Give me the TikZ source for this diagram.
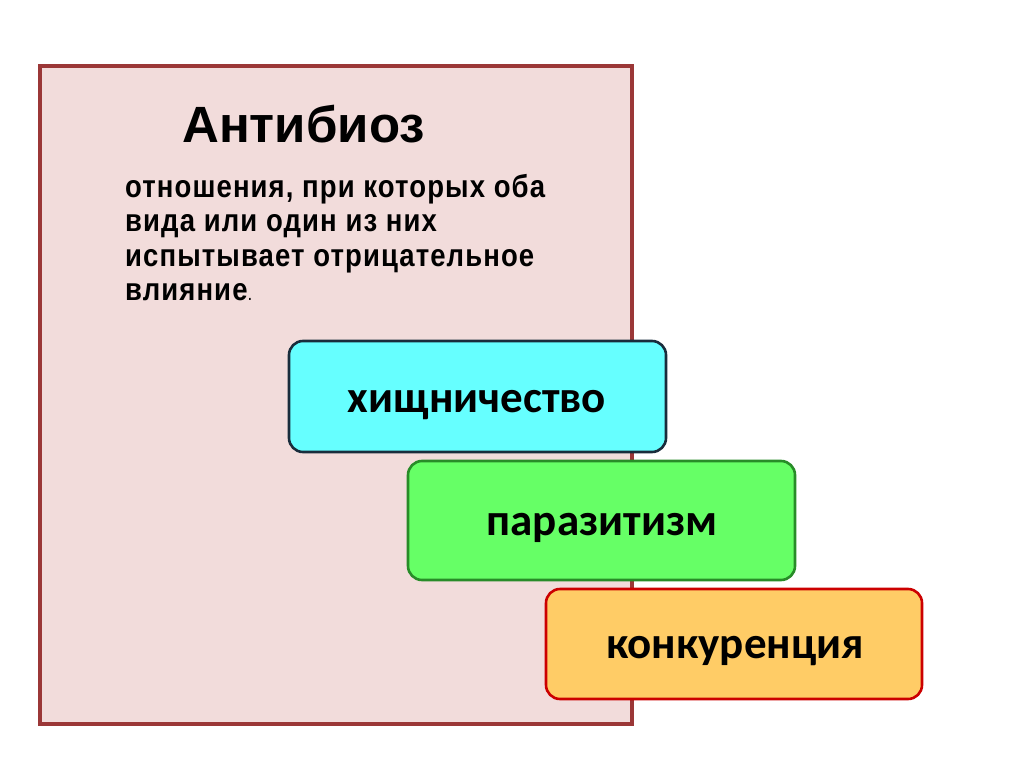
\documentclass[tikz,border=0pt]{standalone}
\usepackage{fontspec}
\setmainfont{Liberation Sans}
\newfontfamily\descfont[LetterSpace=4]{Liberation Sans}
\newfontfamily\boxfont{Carlito}
\definecolor{frameRed}{RGB}{155,55,55}
\definecolor{framePink}{RGB}{242,220,219}
\definecolor{cyanFill}{RGB}{102,255,255}
\definecolor{cyanLine}{RGB}{25,45,60}
\definecolor{greenFill}{RGB}{102,255,102}
\definecolor{greenLine}{RGB}{40,140,40}
\definecolor{orangeFill}{RGB}{255,204,102}
\definecolor{orangeLine}{RGB}{204,0,0}
\newcommand{\tallline}[1]{\scalebox{1}[1.15]{#1}}
\tikzset{
  panel/.style={draw=frameRed, fill=framePink, line width=4pt},
  kindbox/.style={rounded corners=14pt, line width=2.6pt},
  kindtext/.style={anchor=base, font=\boxfont\bfseries\fontsize{45}{54}\selectfont, inner sep=0pt},
  desctext/.style={anchor=base west, font=\descfont\bfseries\fontsize{27.5}{34}\selectfont, inner sep=0pt},
}
\begin{document}
\begin{tikzpicture}[x=1pt,y=-1pt]
\useasboundingbox (0,0) rectangle (1024,767);
\fill[white] (0,0) rectangle (1024,767);
\draw[panel] (40,66) rectangle (632,724);
\node[anchor=base west, font=\bfseries\fontsize{51}{60}\selectfont, inner sep=0pt] (title) at (182,143) {Антибиоз};
\node[desctext] (desc1) at (125,198) {\tallline{отношения, при которых оба}};
\node[desctext] (desc2) at (125,232) {\tallline{вида или один из них}};
\node[desctext] (desc3) at (125,266) {\tallline{испытывает отрицательное}};
\node[desctext] (desc4) at (125,300) {\tallline{влияние{\mdseries\fontsize{17}{20}\selectfont.}}};
\draw[kindbox, draw=cyanLine, fill=cyanFill] (289,341) rectangle (666,452);
\node[kindtext] (pred) at (477,412) {хищничество};
\draw[kindbox, draw=greenLine, fill=greenFill] (408,461) rectangle (795,580);
\node[kindtext] (para) at (602,535) {паразитизм};
\draw[kindbox, draw=orangeLine, fill=orangeFill] (546,589) rectangle (922,699);
\node[kindtext] (conc) at (735,658) {конкуренция};
\end{tikzpicture}
\end{document}
